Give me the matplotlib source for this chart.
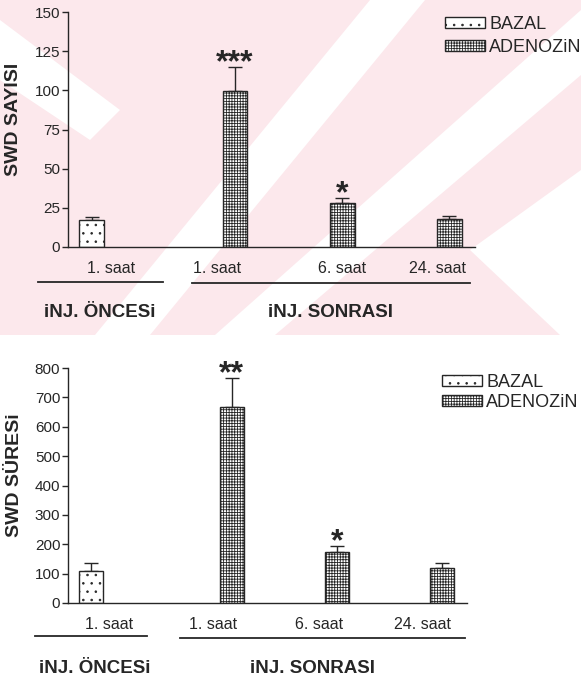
import matplotlib
matplotlib.use('Agg')
import matplotlib.pyplot as plt
from matplotlib.patches import Polygon

plt.rcParams['font.family'] = ['Liberation Sans', 'DejaVu Sans']
plt.rcParams['hatch.linewidth'] = 0.6
plt.rcParams['hatch.color'] = '#333333'

# data
groups = ['1. saat', '1. saat', '6. saat', '24. saat']
bazal_x = [0.22]
adenozin_x = [1.56, 2.56, 3.56]

sayi_bazal = [17.2]
sayi_bazal_err = [2.2]
sayi_adenozin = [99.4, 28.1, 17.9]
sayi_adenozin_err = [15.6, 2.9, 1.9]
sayi_stars = ['***', '*', '']

sure_bazal = [110]
sure_bazal_err = [27]
sure_adenozin = [668, 175, 118]
sure_adenozin_err = [97, 20, 19]
sure_stars = ['**', '*', '']

W, H = 581, 680
INK = '#262626'


def px(x, y):
    return x / W, 1 - y / H


def draw_panel(ax, bazal, bazal_err, aden, aden_err, stars, ymax, ystep,
               ylabel, tickpos, leg_xy, leg_gap, lines, labels):
    bw = 0.23
    b1 = ax.bar(bazal_x, bazal, bw, color='white', edgecolor=INK, lw=1,
                hatch='..', label='BAZAL', zorder=2)
    b2 = ax.bar(adenozin_x, aden, bw, color='white', edgecolor=INK, lw=1,
                hatch='++++++', label='ADENOZiN', zorder=2)
    ax.errorbar(bazal_x, bazal, yerr=[[0] * len(bazal), bazal_err], fmt='none',
                ecolor=INK, elinewidth=1, capsize=5, capthick=1, zorder=1)
    ax.errorbar(adenozin_x, aden, yerr=[[0] * len(aden), aden_err], fmt='none',
                ecolor=INK, elinewidth=1, capsize=5, capthick=1, zorder=1)
    for x, v, e, s in zip(adenozin_x, aden, aden_err, stars):
        if s:
            ax.annotate(s, (x, v + e), xytext=(0, -3), textcoords='offset points',
                        ha='center', va='baseline', fontsize=23,
                        fontweight='bold', color=INK)

    ax.set_xlim(0, 3.8)
    ax.set_ylim(0, ymax)
    ax.set_yticks(range(0, ymax + 1, ystep))
    ax.set_xticks(tickpos)
    ax.set_xticklabels(groups, fontsize=11.5, color=INK)
    ax.tick_params(axis='x', length=0, pad=10)
    ax.tick_params(axis='y', length=4, width=1, pad=1.5, labelsize=11,
                   colors=INK)
    for sp in ['top', 'right']:
        ax.spines[sp].set_visible(False)
    for sp in ['left', 'bottom']:
        ax.spines[sp].set_color(INK)
        ax.spines[sp].set_linewidth(1)
    ax.patch.set_alpha(0)

    ax.set_ylabel(ylabel, fontsize=14, fontweight='bold', color=INK)
    ax.yaxis.set_label_coords(-0.113, 0.545)

    for x0, x1, y in lines:
        ax.plot([x0, x1], [y, y], transform=ax.transAxes, clip_on=False,
                color=INK, lw=1.3)
    for x, y, t in labels:
        ax.text(x, y, t, transform=ax.transAxes, ha='center', va='center',
                fontsize=13.5, fontweight='bold', color=INK)

    ax.legend(handles=[b1, b2], loc='upper left', bbox_to_anchor=leg_xy,
              bbox_transform=ax.figure.transFigure, frameon=False,
              fontsize=13, handlelength=2.2, handleheight=0.55,
              handletextpad=0.25, labelspacing=leg_gap, borderpad=0,
              borderaxespad=0, labelcolor=INK)


fig = plt.figure(figsize=(W / 100, H / 100), dpi=100)

# faint pink watermark behind the upper chart
bg = [
    ([(0, 0), (581, 0), (581, 335), (0, 335)], '#fce8ec'),
    ([(95, 335), (150, 335), (425, 0), (370, 0)], 'white'),
    ([(215, 335), (275, 335), (581, 75), (581, 10)], 'white'),
    ([(0, 20), (0, 80), (90, 140), (120, 110)], 'white'),
    ([(470, 250), (581, 170), (581, 335), (560, 335)], 'white'),
]
for pts, c in bg:
    fig.patches.append(Polygon([px(x, y) for x, y in pts], closed=True,
                               transform=fig.transFigure, facecolor=c,
                               edgecolor='none', zorder=-10))

ax1 = fig.add_axes([68 / W, 1 - 247 / H, 407 / W, 235 / H])
draw_panel(ax1, sayi_bazal, sayi_bazal_err, sayi_adenozin, sayi_adenozin_err,
           sayi_stars, 150, 25, 'SWD SAYISI',
           [0.40, 1.39, 2.56, 3.45], px(445, 16), 0.35,
           [(-0.074, 0.233, -0.149), (0.305, 0.988, -0.153)],
           [(0.079, -0.277, 'iNJ. ÖNCESi'), (0.644, -0.277, 'iNJ. SONRASI')])

ax2 = fig.add_axes([68 / W, 1 - 603 / H, 399 / W, 235 / H])
draw_panel(ax2, sure_bazal, sure_bazal_err, sure_adenozin, sure_adenozin_err,
           sure_stars, 800, 100, 'SWD SÜRESi',
           [0.39, 1.38, 2.39, 3.38], px(442, 374), 0.15,
           [(-0.083, 0.198, -0.140), (0.281, 0.995, -0.149)],
           [(0.068, -0.277, 'iNJ. ÖNCESi'), (0.614, -0.277, 'iNJ. SONRASI')])

fig.savefig('out.png', dpi=100)
